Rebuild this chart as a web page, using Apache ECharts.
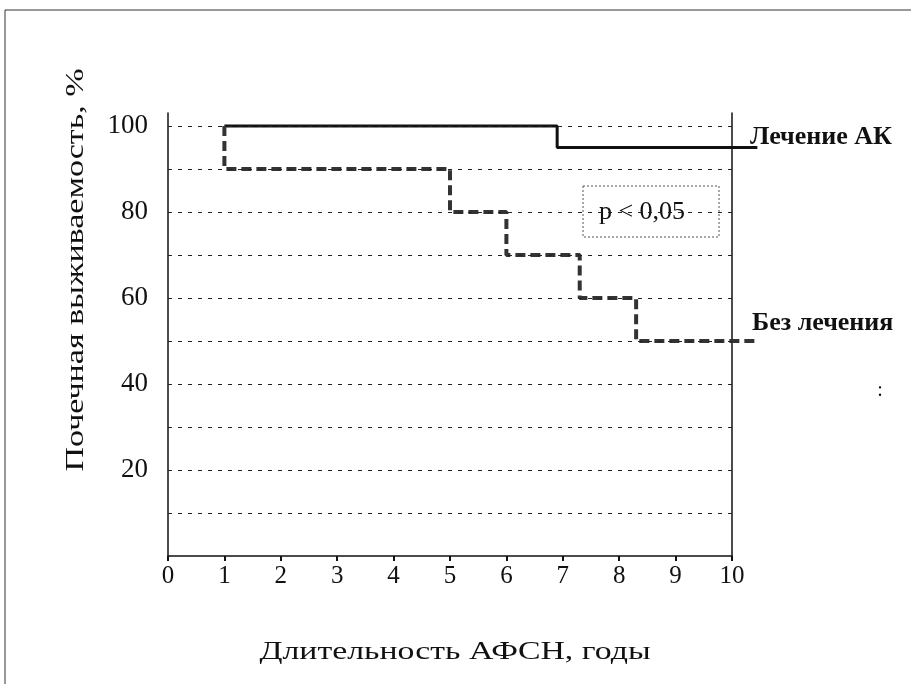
<!DOCTYPE html>
<html>
<head>
<meta charset="utf-8">
<script src="https://cdn.jsdelivr.net/npm/echarts@6/dist/echarts.min.js"></script>
<style>html,body{margin:0;padding:0;background:#fff}#c{width:911px;height:684px}</style>
</head>
<body>
<div id="c"></div>
<script>
var xTicks = [0,1,2,3,4,5,6,7,8,9,10];
var yTickLabels = [20,40,60,80,100];
var gridLevels = [10,20,30,40,50,60,70,80,90,100];
var treatedTime = [1, 6.9, 10.45];
var treatedSurv = [100, 95, 95];
var untreatedTime = [1, 1, 5, 6, 7.3, 8.3, 10.4];
var untreatedSurv = [100, 90, 80, 70, 60, 50, 50];
var treatedName = 'Лечение АК';
var untreatedName = 'Без лечения';
var xTitle = 'Длительность АФСН, годы';
var yTitle = 'Почечная выживаемость, %';
var pText = 'p < 0,05';

var F = '"Liberation Serif", "DejaVu Serif", serif';
var chart = echarts.init(document.getElementById('c'));
function zip(a,b){return a.map(function(v,i){return [v,b[i]];});}
var L = 168, R = 179, T = 113, B = 128;
var xMax = xTicks[xTicks.length-1];
var pxPerUnit = (911 - L - R) / xMax;
var xMax2 = 10.5;
var R2 = 911 - L - pxPerUnit * xMax2;
chart.setOption({
  animation:false,
  backgroundColor:'#fff',
  grid:[{left:L, right:R, top:T, bottom:B},{left:L, right:R2, top:T, bottom:B}],
  xAxis:[{type:'value', gridIndex:0, min:xTicks[0], max:xMax, interval:1,
    axisLine:{show:true, lineStyle:{color:'#111', width:1.5}},
    axisTick:{show:true, length:5, lineStyle:{color:'#111', width:2}},
    splitLine:{show:false},
    axisLabel:{color:'#111', fontFamily:F, fontSize:25, margin:8}},
   {type:'value', gridIndex:1, min:0, max:xMax2, show:false}],
  yAxis:[{type:'value', gridIndex:0, min:0, max:103, interval:10,
    axisLine:{show:true, lineStyle:{color:'#111', width:1.5}},
    axisTick:{show:false},
    splitLine:{show:false},
    axisLabel:{color:'#111', fontFamily:F, fontSize:27, margin:20,
      formatter:function(v){return yTickLabels.indexOf(v)>=0 ? String(v) : '';}}},
   {type:'value', gridIndex:0, min:0, max:103, position:'right',
    axisLine:{show:true, lineStyle:{color:'#111', width:1.5}},
    axisTick:{show:false}, axisLabel:{show:false}, splitLine:{show:false}},
   {type:'value', gridIndex:1, min:0, max:103, show:false}],
  series:[
   {type:'line', name:'grid', xAxisIndex:0, yAxisIndex:0, data:[], silent:true,
    markLine:{silent:true, symbol:'none', label:{show:false},
      lineStyle:{color:'#222', type:[4,6], width:1},
      data:gridLevels.map(function(v){return {yAxis:v};})}},
   {type:'line', name:treatedName, xAxisIndex:1, yAxisIndex:2, data:zip(treatedTime, treatedSurv), step:'end',
    showSymbol:false, lineStyle:{color:'#111', width:3}},
   {type:'line', name:untreatedName, xAxisIndex:1, yAxisIndex:2, data:zip(untreatedTime, untreatedSurv), step:'end',
    showSymbol:false, lineStyle:{color:'#333', width:4, type:[10,5]}}
  ],
  graphic:[
   {type:'polyline', shape:{points:[[5,684],[5,10],[911,10]]}, style:{stroke:'#333', lineWidth:1, fill:null}},
   {type:'rect', shape:{x:583, y:186, width:136, height:51}, style:{fill:'#fff', stroke:'#555', lineWidth:1, lineDash:[2,2]}},
   {type:'text', x:642, y:212, style:{text:pText, font:'26px '+F, fill:'#111', textAlign:'center', textVerticalAlign:'middle'}},
   {type:'text', x:750, y:137, style:{text:treatedName, font:'bold 26px '+F, fill:'#111', textVerticalAlign:'middle'}},
   {type:'text', x:752, y:323, style:{text:untreatedName, font:'bold 26px '+F, fill:'#111', textVerticalAlign:'middle'}},
   {type:'text', x:880, y:391, style:{text:':', font:'20px '+F, fill:'#111', textAlign:'center', textVerticalAlign:'middle'}},
   {type:'text', x:455, y:652, scaleX:1.3, style:{text:xTitle, font:'26px '+F, fill:'#111', textAlign:'center', textVerticalAlign:'middle'}},
   {type:'text', x:76, y:270, rotation:Math.PI/2, scaleX:1.36, style:{text:yTitle, font:'25px '+F, fill:'#111', textAlign:'center', textVerticalAlign:'middle'}}
  ]
});
</script>
</body>
</html>
